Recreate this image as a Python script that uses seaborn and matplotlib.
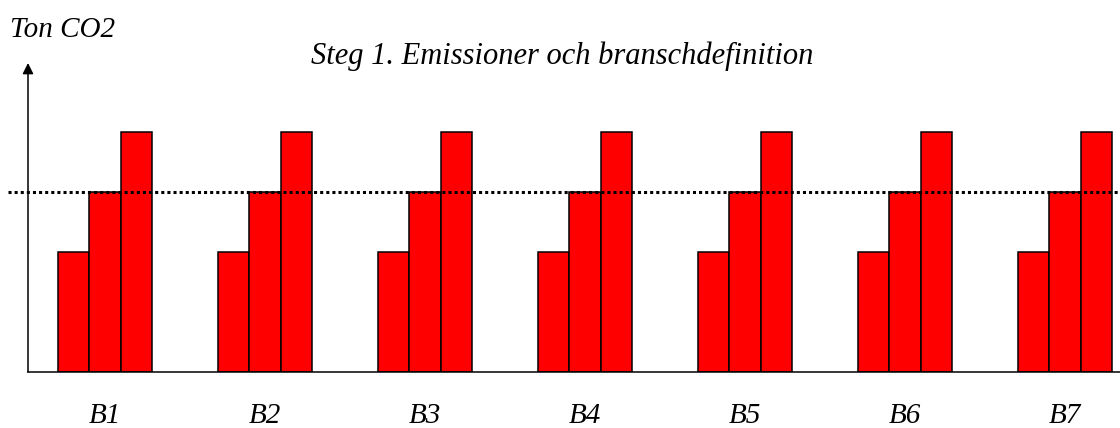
import pandas as pd
import matplotlib
matplotlib.use("Agg")
import matplotlib.pyplot as plt
import seaborn as sns

# Data (arbitrary units)
branscher = ["B1", "B2", "B3", "B4", "B5", "B6", "B7"]
steg_a = [2, 2, 2, 2, 2, 2, 2]
steg_b = [3, 3, 3, 3, 3, 3, 3]
steg_c = [4, 4, 4, 4, 4, 4, 4]
branschnivå = 3

df = pd.DataFrame({
    "bransch": branscher * 3,
    "serie": ["a"] * 7 + ["b"] * 7 + ["c"] * 7,
    "utslapp": steg_a + steg_b + steg_c,
})

sns.set_style("white")
plt.rcParams["font.family"] = ["Liberation Serif", "DejaVu Serif"]
plt.rcParams["font.style"] = "italic"
plt.rcParams["text.color"] = "black"
plt.rcParams["xtick.color"] = "black"

W, H = 1120, 428
fig = plt.figure(figsize=(W / 100, H / 100), dpi=100)
x0, y0, ytop = 28, 372, 63
ax = fig.add_axes([x0 / W, (H - y0) / H, 1 - x0 / W, (y0 - ytop) / H])

sns.barplot(data=df, x="bransch", y="utslapp", hue="serie",
            palette=["#ff0000"] * 3, edgecolor="black", linewidth=1.1,
            width=0.584, gap=0, legend=False, ax=ax, errorbar=None,
            saturation=1)

ax.set_xlim((x0 - 105) / 160, (W - 105) / 160)
ax.set_ylim(0, (y0 - ytop) / 60)

# prickad linje för branschnivån, börjar lite till vänster om y-axeln
ax.axhline(branschnivå, xmin=(8 - x0) / (W - x0), xmax=1, color="black",
           lw=2.2, linestyle=(0, (1, 1)), dash_capstyle="butt", clip_on=False,
           zorder=1)

sns.despine(ax=ax, top=True, right=True, left=True)
ax.spines["bottom"].set_linewidth(1.1)
ax.spines["bottom"].set_color("black")
ax.annotate("", xy=(0, 1), xytext=(0, 0), xycoords="axes fraction",
            arrowprops=dict(arrowstyle="-|>", color="black", lw=1.1,
                            mutation_scale=16, shrinkA=0, shrinkB=0))

ax.set_yticks([])
ax.tick_params(axis="x", length=0, pad=22, labelsize=21)
ax.set_xlabel("")
ax.set_ylabel("")

fig.text(10 / W, 1 - 37 / H, "Ton CO2", fontsize=21, style="italic",
         va="baseline", ha="left")
fig.text(562 / W, 1 - 64 / H, "Steg 1. Emissioner och branschdefinition",
         fontsize=22, style="italic", va="baseline", ha="center")

plt.savefig("out.png", dpi=100)
